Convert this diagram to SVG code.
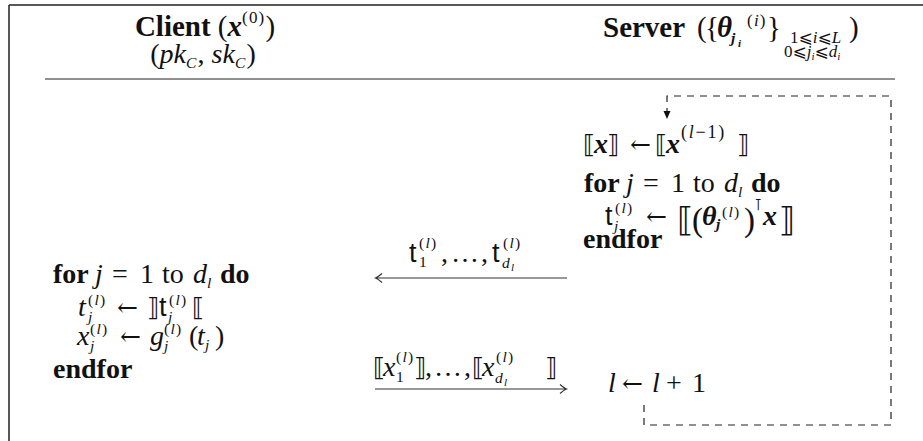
<svg xmlns="http://www.w3.org/2000/svg" width="923" height="441" viewBox="0 0 923 441">
<style>
.m{font-family:"Liberation Serif","DejaVu Serif","DejaVu Sans",serif;font-size:28px;fill:#111}
.h{font-size:29px}
.i{font-style:italic}
.b{font-weight:bold}
.bi{font-weight:bold;font-style:italic}
.s{font-size:15.5px;letter-spacing:1.2px}
.ss{font-size:11px}
.lim{font-size:17px}
.sf{font-family:"Liberation Sans","DejaVu Sans",sans-serif;font-size:27px}
.br{font-family:"DejaVu Serif","DejaVu Sans",serif;font-size:25px}
.ar{font-family:"DejaVu Serif","DejaVu Sans",serif;font-size:25px}
.big{font-size:33px}
.frame{stroke:#222;stroke-width:1.5;fill:none}
.rule{stroke:#222;stroke-width:1.2;fill:none}
.msg{stroke:#333;stroke-width:1.2;fill:none}
.dash{stroke:#222;stroke-width:1.2;fill:none;stroke-dasharray:7 6}
</style>
<rect width="923" height="441" fill="#fff"/>
<g id="frame">
<path class="frame" d="M9,5 H923 M9,5 V441"/>
<path class="rule" d="M45,79 H895"/>
</g>
<g id="client-header">
<text class="m h" x="205" y="36" text-anchor="middle"><tspan class="b">Client</tspan> (<tspan class="bi">x</tspan><tspan class="s" style="font-size:17px" dy="-13">(0)</tspan><tspan dy="13">)</tspan></text>
<text class="m" x="203" y="63" text-anchor="middle">(<tspan class="i">pk</tspan><tspan class="s i" dy="5">C</tspan><tspan dy="-5">, </tspan><tspan class="i">sk</tspan><tspan class="s i" dy="5">C</tspan><tspan dy="-5">)</tspan></text>
</g>
<g id="server-header">
<text class="m h"><tspan class="b" x="603" y="37">Server</tspan><tspan x="697" y="37">(</tspan><tspan x="705" y="37">{</tspan><tspan class="bi" x="717" y="37">θ</tspan><tspan class="bi s" x="731" y="43">j</tspan><tspan class="bi ss" x="738" y="47">i</tspan><tspan class="s" style="font-size:17px" x="747" y="26">(<tspan class="i">i</tspan>)</tspan><tspan x="767" y="37">}</tspan><tspan x="849" y="37">)</tspan></text>
<text class="m lim" x="790" y="43">1⩽<tspan class="i">i</tspan>⩽<tspan class="i">L</tspan></text>
<text class="m lim" x="784" y="57">0⩽<tspan class="i">j</tspan><tspan class="i ss" dy="3">i</tspan><tspan dy="-3">⩽</tspan><tspan class="i">d</tspan><tspan class="i ss" dy="3">i</tspan></text>
</g>
<g id="client-block">
<text class="m" y="283"><tspan class="b" x="53">for</tspan><tspan class="i" x="95">j</tspan><tspan x="112">=</tspan><tspan x="140">1</tspan><tspan x="162">to</tspan><tspan class="i" x="193">d</tspan><tspan class="i s" x="207" y="288">l</tspan><tspan class="b" x="220" y="283">do</tspan></text>
<text class="m"><tspan class="i" x="78" y="316">t</tspan><tspan class="s" x="88" y="305">(<tspan class="i">l</tspan>)</tspan><tspan class="s i" x="88" y="322">j</tspan><tspan class="ar" x="117" y="316">←</tspan><tspan class="br" x="147" y="316">⟧</tspan><tspan class="sf" x="159" y="316">t</tspan><tspan class="s" x="169" y="305">(<tspan class="i">l</tspan>)</tspan><tspan class="s i" x="168" y="322">j</tspan><tspan class="br" x="192" y="316">⟦</tspan></text>
<text class="m"><tspan class="i" x="77" y="345">x</tspan><tspan class="s" x="90" y="334">(<tspan class="i">l</tspan>)</tspan><tspan class="s i" x="90" y="351">j</tspan><tspan class="ar" x="120" y="345">←</tspan><tspan class="i" x="150" y="345">g</tspan><tspan class="s" x="164" y="334">(<tspan class="i">l</tspan>)</tspan><tspan class="s i" x="164" y="351">j</tspan><tspan x="189" y="345">(</tspan><tspan class="i" x="197" y="345">t</tspan><tspan class="s i" x="205" y="350">j</tspan><tspan x="215" y="345">)</tspan></text>
<text class="m b" x="53" y="378">endfor</text>
</g>
<g id="server-block">
<text class="m"><tspan class="br" x="583" y="153">⟦</tspan><tspan class="bi" x="594" y="153">x</tspan><tspan class="br" x="607" y="153">⟧</tspan><tspan class="ar" x="630" y="153">←</tspan><tspan class="br" x="655" y="153">⟦</tspan><tspan class="bi" x="666" y="153">x</tspan><tspan class="s" style="font-size:18px;letter-spacing:1.8px" x="681" y="138">(<tspan class="i">l</tspan>−1)</tspan><tspan class="br" x="737" y="153">⟧</tspan></text>
<text class="m" y="192"><tspan class="b" x="584">for</tspan><tspan class="i" x="626">j</tspan><tspan x="643">=</tspan><tspan x="671">1</tspan><tspan x="693">to</tspan><tspan class="i" x="724">d</tspan><tspan class="i s" x="738" y="197">l</tspan><tspan class="b" x="751" y="192">do</tspan></text>
<text class="m"><tspan class="sf" x="605" y="225">t</tspan><tspan class="s" x="615" y="213">(<tspan class="i">l</tspan>)</tspan><tspan class="s i" x="614" y="231">j</tspan><tspan class="ar" x="646" y="225">←</tspan><tspan class="br big" x="677" y="231">⟦</tspan><tspan class="big" x="692" y="231">(</tspan><tspan class="bi" x="702" y="225">θ</tspan><tspan class="bi s" x="716" y="229">j</tspan><tspan class="s" x="722" y="217">(<tspan class="i">l</tspan>)</tspan><tspan class="big" x="744" y="231">)</tspan><tspan class="br" style="font-size:16px" x="754" y="210">⊺</tspan><tspan class="bi" x="763" y="225">x</tspan><tspan class="br big" x="779" y="231">⟧</tspan></text>
<text class="m b" x="583" y="248">endfor</text>
<text class="m" y="392"><tspan class="i" x="608">l</tspan><tspan class="ar" x="622">←</tspan><tspan class="i" x="652">l</tspan><tspan x="666">+</tspan><tspan x="692">1</tspan></text>
</g>
<g id="msg-labels">
<text class="m"><tspan class="sf" x="409" y="262">t</tspan><tspan class="s" x="419" y="248">(<tspan class="i">l</tspan>)</tspan><tspan class="s" x="419" y="267">1</tspan><tspan x="441" y="262">,</tspan><tspan x="451" y="262">…</tspan><tspan x="481" y="262">,</tspan><tspan class="sf" x="492" y="262">t</tspan><tspan class="s" x="503" y="248">(<tspan class="i">l</tspan>)</tspan><tspan class="s i" x="502" y="268">d</tspan><tspan class="ss i" x="511" y="271">l</tspan></text>
<text class="m"><tspan class="br" x="373" y="376">⟦</tspan><tspan class="i" x="383" y="376">x</tspan><tspan class="s" x="396" y="362">(<tspan class="i">l</tspan>)</tspan><tspan class="s" x="396" y="382">1</tspan><tspan class="br" x="414" y="376">⟧</tspan><tspan x="425" y="376">,</tspan><tspan x="434" y="376">…</tspan><tspan x="464" y="376">,</tspan><tspan class="br" x="472" y="376">⟦</tspan><tspan class="i" x="482" y="376">x</tspan><tspan class="s" x="496" y="362">(<tspan class="i">l</tspan>)</tspan><tspan class="s i" x="495" y="383">d</tspan><tspan class="ss i" x="504" y="386">l</tspan><tspan class="br" x="545" y="376">⟧</tspan></text>
</g>
<g id="connectors">
<path class="msg" d="M567,278 H376 M382,273.5 Q378,277 375.5,278 Q378,279 382,282.5"/>
<path class="msg" d="M375,389 H566 M560,384.5 Q564,388 566.5,389 Q564,390 560,393.5"/>
<path class="dash" d="M644,405 V425 H891 V96 H667 V111"/>
<path d="M663.5,111 L670.5,111 L667,119 Z" fill="#111"/>
</g>
</svg>
